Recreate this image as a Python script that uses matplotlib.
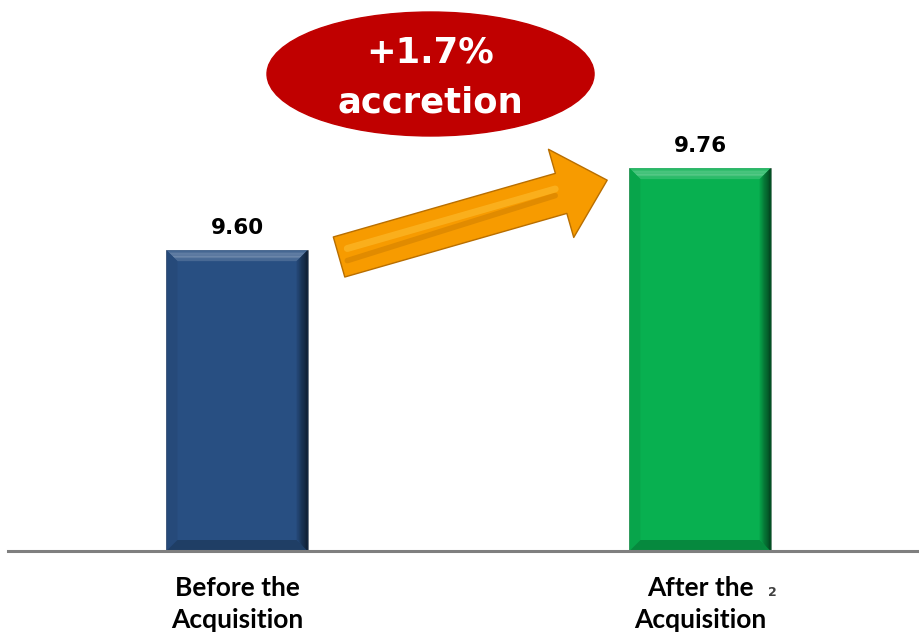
import matplotlib
matplotlib.use("Agg")
import matplotlib.pyplot as plt
from matplotlib.patches import Ellipse, Polygon
from matplotlib.colors import to_rgb

# Per-share values before and after the deal
categories = ['Before the\nAcquisition', 'After the\nAcquisition']
values = [9.60, 9.76]
bar_colors = ['#284F82', '#08B050']
accretion_lines = ['+1.7%', 'accretion']
page_number = '2'

plt.rcParams['font.family'] = ['DejaVu Sans']

fig = plt.figure(figsize=(9.2, 6.35), dpi=100)
ax = fig.add_axes([8 / 920, 84 / 635, 912 / 920, 551 / 635])

xpos = list(range(len(values)))
bar_width = 0.305
bars = ax.bar(xpos, values, width=bar_width, color=bar_colors,
              edgecolor='#5a5a5a', linewidth=0.4, zorder=2)

ax.set_xlim(-0.4946, 1.475)
ax.set_ylim(9.013, 10.088)


def mix(c, other, t):
    a = to_rgb(c)
    b = to_rgb(other)
    return tuple(a[i] * (1 - t) + b[i] * t for i in range(3))


# bevel edges on each bar, sized in pixels
x_per_px = (ax.get_xlim()[1] - ax.get_xlim()[0]) / 912
y_per_px = (ax.get_ylim()[1] - ax.get_ylim()[0]) / 551
bev = 11
dx, dy = bev * x_per_px, bev * y_per_px
for bar, col in zip(bars, bar_colors):
    x0 = bar.get_x()
    x1 = x0 + bar.get_width()
    y1 = bar.get_height()
    y0 = ax.get_ylim()[0]
    # top face, lighter band
    n = 8
    for k in range(n):
        a = k / n
        b = (k + 1) / n
        t = 0.12 + 0.22 * (1 - abs(2 * (a + b) / 2 - 1))
        ax.add_patch(Polygon([(x0 + dx * a, y1 - dy * a), (x1 - dx * a, y1 - dy * a),
                              (x1 - dx * b, y1 - dy * b), (x0 + dx * b, y1 - dy * b)],
                             closed=True, color=mix(col, 'white', t), lw=0, zorder=3))
    # left face
    ax.add_patch(Polygon([(x0, y1), (x0 + dx, y1 - dy), (x0 + dx, y0 + dy), (x0, y0)],
                         closed=True, color=mix(col, 'black', 0.06), lw=0, zorder=3))
    # bottom face
    ax.add_patch(Polygon([(x0, y0), (x1, y0), (x1 - dx, y0 + dy), (x0 + dx, y0 + dy)],
                         closed=True, color=mix(col, 'black', 0.22), lw=0, zorder=3))
    # right face, shaded toward black
    n = 10
    for k in range(n):
        a = k / n
        b = (k + 1) / n
        ax.add_patch(Polygon([(x1 - dx * (1 - a), y1 - dy * (1 - a)), (x1 - dx * (1 - b), y1 - dy * (1 - b)),
                              (x1 - dx * (1 - b), y0 + dy * (1 - b)), (x1 - dx * (1 - a), y0 + dy * (1 - a))],
                             closed=True, color=mix(col, 'black', 0.1 + 0.7 * b ** 1.5), lw=0, zorder=3))

# value labels above the bars
for x, v in zip(xpos, values):
    ax.annotate(f'{v:.2f}', xy=(x, v), xytext=(0, 11.5), textcoords='offset points',
                ha='center', va='baseline', fontsize=15.5, fontweight='bold', color='black')

# axis styling
for side in ['top', 'left', 'right']:
    ax.spines[side].set_visible(False)
ax.spines['bottom'].set_color('#7f7f7f')
ax.spines['bottom'].set_linewidth(2.2)
ax.spines['bottom'].set_zorder(4)
ax.set_yticks([])
ax.set_xticks([])

# category labels under the axis, one line at a time
for x, label in zip(xpos, categories):
    for i, line in enumerate(label.split('\n')):
        ax.annotate(line, xy=(x, 0), xycoords=('data', 'axes fraction'),
                    xytext=(0, -32.4 - 23 * i), textcoords='offset points',
                    ha='center', va='baseline', fontsize=19, fontweight='bold',
                    family=['Lato', 'DejaVu Sans'], color='black')

# growth arrow between the bars
ax.annotate('', xy=(0.657, 0.673), xytext=(0.363, 0.5336), xycoords='axes fraction',
            arrowprops=dict(arrowstyle='simple,head_length=1.15,head_width=2.2,tail_width=1.0',
                            mutation_scale=30, fc='#F79B00', ec='#B86E00', lw=1.0,
                            shrinkA=0, shrinkB=0), zorder=5)
ax.annotate('', xy=(0.600, 0.657), xytext=(0.372, 0.549), xycoords='axes fraction',
            arrowprops=dict(arrowstyle='-', color='#FFC840', lw=5, alpha=0.45,
                            shrinkA=0, shrinkB=0), zorder=6)
ax.annotate('', xy=(0.600, 0.645), xytext=(0.372, 0.527), xycoords='axes fraction',
            arrowprops=dict(arrowstyle='-', color='#B86E00', lw=4, alpha=0.35,
                            shrinkA=0, shrinkB=0), zorder=6)

# accretion bubble
ax.add_patch(Ellipse((0.4633, 0.8657), 0.3586, 0.225, transform=ax.transAxes,
                     color='#C00000', clip_on=False, zorder=5))
for y, line in zip([0.8857, 0.7967], accretion_lines):
    ax.text(0.4627, y, line, transform=ax.transAxes, ha='center', va='baseline',
            fontsize=25.5, fontweight='bold', color='white', zorder=6)

fig.text(772 / 920, 1 - 592 / 635, page_number, ha='center', va='center',
         fontsize=9, fontweight='bold', color='#404040')

fig.savefig('out.png', dpi=100)
